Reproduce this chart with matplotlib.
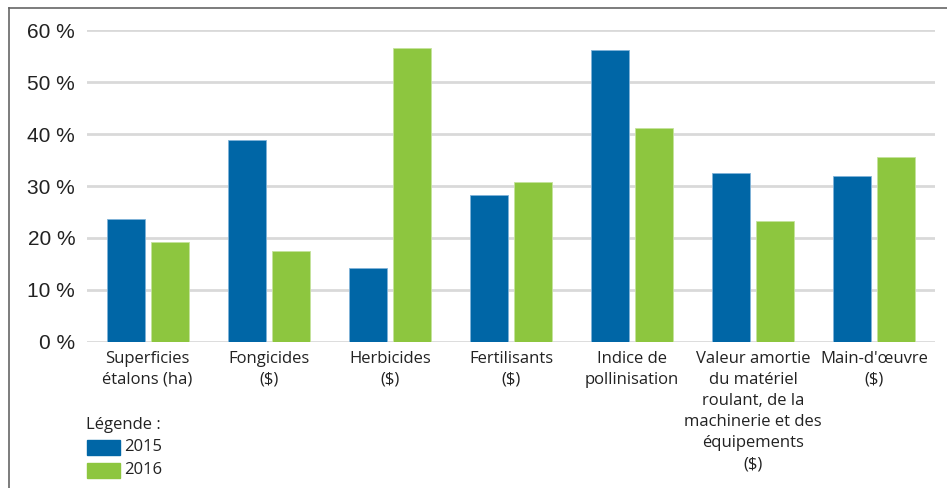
import matplotlib.pyplot as plt
from matplotlib.patches import Rectangle
from matplotlib.lines import Line2D
import numpy as np

plt.rcParams['text.parse_math'] = False

categories = ["Superficies\nétalons (ha)", "Fongicides\n($)", "Herbicides\n($)",
              "Fertilisants\n($)", "Indice de\npollinisation",
              "Valeur amortie\ndu matériel\nroulant, de la\nmachinerie et des\néquipements\n($)",
              "Main-d'œuvre\n($)"]
years = ["2015", "2016"]
v2015 = [23.6, 38.8, 14.2, 28.2, 56.3, 32.6, 32.0]
v2016 = [19.2, 17.4, 56.6, 30.7, 41.2, 23.2, 35.6]
yticks = [0, 10, 20, 30, 40, 50, 60]

blue = '#0066a6'
green = '#8dc63f'
W, H = 947, 488

fig = plt.figure(figsize=(W / 100, H / 100), dpi=100)
ax = fig.add_axes([87 / W, (H - 341.7) / H, (935 - 87) / W, (341.7 - 30.3) / H])

x = np.arange(len(categories))
bw = 0.314
off = 0.182
ax.bar(x - off, v2015, bw, color=blue, edgecolor='#7fb3d9', linewidth=0.6, zorder=3)
ax.bar(x + off, v2016, bw, color=green, edgecolor='#c4e29c', linewidth=0.6, zorder=3)

ax.set_xlim(-0.5, len(categories) - 0.5)
ax.set_ylim(0, 60)
ax.set_yticks(yticks)
ax.set_yticklabels([f"{t} %" for t in yticks], fontsize=15, family='Liberation Sans', color='#222222')
ax.yaxis.grid(True, color='#d9d9d9', linewidth=2)
ax.set_axisbelow(True)
for s in ax.spines.values():
    s.set_visible(False)
ax.tick_params(axis='y', length=0, pad=8.5)
ax.tick_params(axis='x', length=0, pad=6.5)
ax.set_xticks(x)
ax.set_xticklabels(categories, fontsize=12, family='Open Sans', color='#222222',
                   linespacing=1.43, va='top')

# outer frame (top and left edges only)
fig.add_artist(Line2D([9 / W, 1], [(H - 8) / H] * 2, color='#666666', linewidth=1.2, transform=fig.transFigure))
fig.add_artist(Line2D([9 / W] * 2, [0, (H - 8) / H], color='#666666', linewidth=1.2, transform=fig.transFigure))

# legend
fig.text(86 / W, (H - 425) / H, "Légende :", fontsize=12, family='Open Sans', color='#222222', va='center')
for i, (yr, c) in enumerate(zip(years, [blue, green])):
    yc = 447 + i * 23
    fig.add_artist(Rectangle((87 / W, (H - yc - 7.5) / H), 33 / W, 15 / H, color=c, transform=fig.transFigure))
    fig.text(124 / W, (H - yc) / H, yr, fontsize=12, family='Open Sans', color='#222222', va='center')

fig.savefig('out.png', dpi=100)
